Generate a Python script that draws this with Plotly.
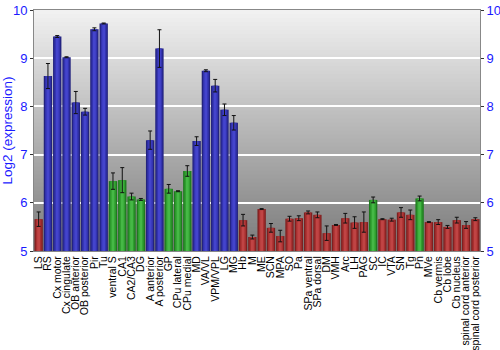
import plotly.graph_objects as go

categories = ["LS", "RS", "Cx motor", "Cx cingulate", "OB anterior", "OB posterior", "Pir", "Tu",
              "ventral S", "CA1", "CA2/CA3", "DG", "A anterior", "A posterior", "GP", "CPu lateral",
              "CPu medial", "MD", "VA/VL", "VPM/VPL", "LG", "MG", "Hb", "M", "ME", "SCN", "MPA",
              "SO", "Pa", "SPa ventral", "SPa dorsal", "DM", "VMH", "Arc", "LH", "PAG", "SC", "IC",
              "VTA", "SN", "Tg", "Pn", "MVe", "Cb vermis", "Cb lobe", "Cb nucleus",
              "spinal cord anterior", "spinal cord posterior"]
values = [5.66, 8.63, 9.45, 9.02, 8.08, 7.89, 9.60, 9.72,
          6.45, 6.47, 6.13, 6.07, 7.30, 9.20, 6.29, 6.24,
          6.66, 7.28, 8.74, 8.43, 7.93, 7.66, 5.64, 5.29, 5.87, 5.48, 5.31,
          5.67, 5.68, 5.80, 5.75, 5.37, 5.54, 5.68, 5.59, 5.60, 6.06, 5.66,
          5.65, 5.80, 5.75, 6.09, 5.60, 5.60, 5.50, 5.64,
          5.54, 5.66]
errors = [0.15, 0.26, 0.02, 0.01, 0.23, 0.07, 0.03, 0.01,
          0.17, 0.26, 0.07, 0.02, 0.19, 0.39, 0.09, 0.01,
          0.11, 0.09, 0.02, 0.13, 0.12, 0.15, 0.12, 0.04, 0.01, 0.09, 0.12,
          0.05, 0.05, 0.03, 0.06, 0.15, 0.01, 0.10, 0.12, 0.21, 0.06, 0.01,
          0.03, 0.10, 0.10, 0.05, 0.01, 0.05, 0.03, 0.06,
          0.07, 0.03]
groups = ["r", "b", "b", "b", "b", "b", "b", "b",
          "g", "g", "g", "g", "b", "b", "g", "g",
          "g", "b", "b", "b", "b", "b", "r", "r", "r", "r", "r",
          "r", "r", "r", "r", "r", "r", "r", "r", "r", "g", "r",
          "r", "r", "r", "g", "r", "r", "r", "r",
          "r", "r"]
y_ticks = [5, 6, 7, 8, 9, 10]

palette = {
    "b": ["#23237e", "#3333b0", "#4444cc"],
    "r": ["#7e2020", "#a83030", "#c04444"],
    "g": ["#1f7a1f", "#2f9e2f", "#46b846"],
}

fig = go.Figure()

# background gradient (style only)
n = 60
for i in range(n):
    g = int(0xf2 - (0xf2 - 0x7a) * (1 - (i + 0.5) / n))
    col = f"rgb({g},{g},{g})"
    fig.add_shape(type="rect", xref="x domain", yref="y domain",
                  x0=0, x1=1, y0=i / n, y1=min(1.0, (i + 1.6) / n),
                  fillcolor=col, line_width=0, layer="below")

widths = [0.9, 0.62, 0.3]
for k, w in enumerate(widths):
    fig.add_trace(go.Bar(
        x=categories, y=[v - 5 for v in values], base=5,
        width=w,
        marker=dict(color=[palette[g][k] for g in groups], line_width=0),
        showlegend=False, hoverinfo="skip",
    ))
fig.add_trace(go.Scatter(
    x=categories, y=values, mode="markers", marker=dict(size=0.1, opacity=0),
    error_y=dict(type="data", array=errors, color="#111111", thickness=1, width=2),
    showlegend=False, hoverinfo="skip",
))
fig.add_trace(go.Scatter(x=[categories[0]], y=[5], yaxis="y2", mode="markers",
                         marker=dict(opacity=0), showlegend=False, hoverinfo="skip"))

tickfont = dict(family="Liberation Sans, Arial, sans-serif", size=13, color="#1a1aff")
fig.update_layout(
    width=500, height=350,
    margin=dict(l=34, r=20, t=10, b=99),
    paper_bgcolor="white", plot_bgcolor="rgba(0,0,0,0)",
    barmode="overlay",
    xaxis=dict(tickangle=-90, tickmode="array", tickvals=categories, ticktext=categories,
               tickfont=dict(family="Liberation Sans, Arial, sans-serif",
                             size=10.5, color="black"),
               showline=True, linecolor="#888888", mirror=True, ticks="",
               showgrid=False, automargin=False, range=[-0.5, len(categories) - 0.5]),
    yaxis=dict(range=[5, 10], tickvals=y_ticks, tickfont=tickfont, automargin=False,
               showgrid=True, gridcolor="white", gridwidth=1.5,
               showline=True, linecolor="#888888", ticks="outside", ticklen=3,
               tickcolor="#333333", zeroline=False,
               title=dict(text="Log2 (expression)",
                          font=dict(family="Liberation Sans, Arial, sans-serif",
                                    size=13.5, color="#1a1aff"), standoff=4)),
    yaxis2=dict(range=[5, 10], tickvals=y_ticks, tickfont=tickfont, overlaying="y",
                side="right", showgrid=False, showline=True, linecolor="#888888",
                ticks="outside", ticklen=3, tickcolor="#333333", zeroline=False,
                automargin=False),
)

fig.write_html("out.html")
